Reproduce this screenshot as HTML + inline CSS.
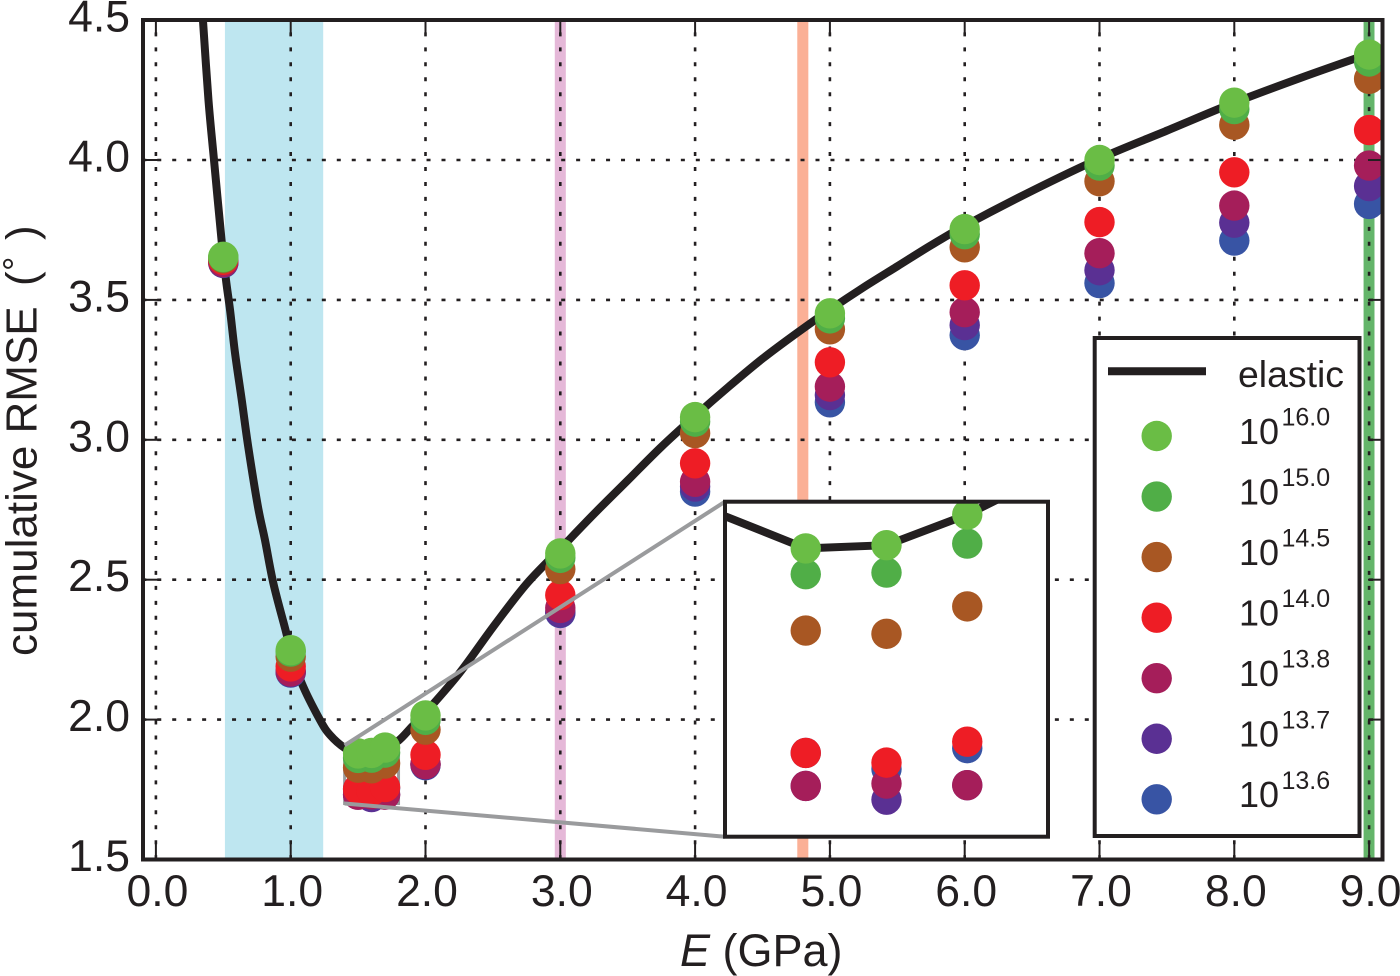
<!DOCTYPE html>
<html lang="en">
<head>
<meta charset="utf-8">
<title>Cumulative RMSE versus E</title>
<style>
html,body{margin:0;padding:0;background:#fff;width:1400px;height:976px;overflow:hidden}
svg{display:block;font-family:"Liberation Sans",Arial,sans-serif;fill:#231f20}
</style>
</head>
<body>
<svg id="chart" width="1400" height="976" viewBox="0 0 1400 976" xmlns="http://www.w3.org/2000/svg">
  <defs>
    <clipPath id="main-clip"><rect x="143" y="20" width="1239.5" height="839.5"/></clipPath>
    <clipPath id="inset-clip"><rect x="725" y="501.7" width="323" height="335"/></clipPath>
  </defs>
  <g id="bands" clip-path="url(#main-clip)"></g>
  <g id="grid" clip-path="url(#main-clip)"></g>
  <g id="main-plot" clip-path="url(#main-clip)"></g>
  <g id="connectors"></g>
  <g id="ticks"></g>
  <rect x="143" y="20" width="1239.5" height="839.5" fill="none" stroke="#231f20" stroke-width="4"/>
  <g id="tick-labels" font-size="44.5"></g>

  <rect x="725" y="501.7" width="323" height="335" fill="#fff"/>
  <g id="inset-plot" clip-path="url(#inset-clip)"></g>
  <rect x="725" y="501.7" width="323" height="335" fill="none" stroke="#231f20" stroke-width="4"/>

  <rect x="1094.7" y="338" width="264.8" height="498" fill="#fff" stroke="#231f20" stroke-width="4"/>
  <g id="legend"></g>

  <g transform="translate(36.7,654) rotate(-90)" font-size="44">
    <text x="-2" y="0">cumulative RMSE</text>
    <text x="368" y="0">(</text>
    <text x="383" y="-8.7" font-size="36">°</text>
    <text x="414" y="0">)</text>
  </g>
  <text x="680" y="966" font-size="45"><tspan font-style="italic">E</tspan> (GPa)</text>
</svg>
<script>
const xTicks = [0, 1, 2, 3, 4, 5, 6, 7, 8, 9];
const xTickLabels = ['0.0', '1.0', '2.0', '3.0', '4.0', '5.0', '6.0', '7.0', '8.0', '9.0'];
const yTicks = [1.5, 2, 2.5, 3, 3.5, 4, 4.5];
const yTickLabels = ['1.5', '2.0', '2.5', '3.0', '3.5', '4.0', '4.5'];

const bandStarts = [0.512, 2.959, 4.758, 8.959];
const bandEnds = [1.241, 3.041, 4.84, 9.04];

const elasticX = [0.33, 0.349, 0.39, 0.431, 0.487, 0.52, 0.55, 0.587, 0.637, 0.685, 0.757, 0.809, 0.871, 0.958, 1.0, 1.082, 1.217, 1.292, 1.4, 1.5, 1.6, 1.7, 1.8, 1.9, 2.0, 2.25, 2.5, 2.75, 3.0, 3.25, 3.5, 3.75, 4.0, 4.25, 4.5, 4.75, 5.0, 5.25, 5.5, 5.75, 6.0, 6.5, 7.0, 7.5, 8.0, 8.5, 9.0];
const elasticY = [4.62, 4.5, 4.214, 4.0, 3.714, 3.571, 3.464, 3.31, 3.142, 2.975, 2.761, 2.642, 2.488, 2.327, 2.25, 2.13, 1.999, 1.945, 1.899, 1.879, 1.881, 1.9, 1.925, 1.975, 2.025, 2.165, 2.33, 2.485, 2.61, 2.735, 2.855, 2.975, 3.085, 3.19, 3.29, 3.38, 3.465, 3.545, 3.62, 3.695, 3.765, 3.89, 4.005, 4.105, 4.205, 4.295, 4.38];

const markerX = [0.5, 1.0, 1.5, 1.6, 1.7, 2.0, 3.0, 4.0, 5.0, 6.0, 7.0, 8.0, 9.0];
const series136 = [3.632, 2.168, 1.752, 1.742, 1.755, 1.837, 2.381, 2.815, 3.134, 3.374, 3.56, 3.712, 3.843];
const series137 = [3.633, 2.17, 1.7315, 1.723, 1.732, 1.839, 2.383, 2.833, 3.16, 3.41, 3.606, 3.776, 3.907];
const series138 = [3.635, 2.172, 1.7315, 1.733, 1.732, 1.841, 2.399, 2.85, 3.19, 3.456, 3.667, 3.837, 3.98];
const series140 = [3.643, 2.19, 1.752, 1.746, 1.759, 1.874, 2.445, 2.916, 3.277, 3.552, 3.778, 3.956, 4.107];
const series145 = [3.648, 2.225, 1.828, 1.826, 1.843, 1.964, 2.538, 3.024, 3.395, 3.688, 3.924, 4.126, 4.29];
const series150 = [3.652, 2.243, 1.863, 1.864, 1.882, 1.999, 2.578, 3.065, 3.434, 3.735, 3.98, 4.182, 4.352];
const series160 = [3.654, 2.248, 1.879, 1.881, 1.9, 2.015, 2.594, 3.081, 3.452, 3.753, 4.0, 4.205, 4.377];

const drawOrder = [series136, series137, series138, series140, series145, series150, series160];
const seriesExponents = ['13.6', '13.7', '13.8', '14.0', '14.5', '15.0', '16.0'];
const seriesColors = ['#3854a4', '#5a3093', '#a51e5a', '#ee1d25', '#a85723', '#50ae47', '#6abd45'];
const bandColors = ['#bee6f0', '#e5b8d8', '#fbb096', '#64b56a'];

const insetXLim = [1.4, 1.8];
const insetYLim = [1.7, 1.908];

const NS = 'http://www.w3.org/2000/svg';
function sx(v) { return 155.9 + v * 134.8; }
function sy(v) { return 859.5 - (v - 1.5) * 279.8; }
function ix(v) { return 725 + (v - insetXLim[0]) / (insetXLim[1] - insetXLim[0]) * 323; }
function iy(v) { return 836.7 - (v - insetYLim[0]) / (insetYLim[1] - insetYLim[0]) * 335; }
function make(tag, parent, attrs) {
  const el = document.createElementNS(NS, tag);
  for (const k in attrs) el.setAttribute(k, attrs[k]);
  parent.appendChild(el);
  return el;
}
const $ = id => document.getElementById(id);

function straightPath(p) {
  return 'M' + p.map(q => q[0] + ' ' + q[1]).join('L');
}
function smoothPath(p) {
  let d = 'M' + p[0][0] + ' ' + p[0][1];
  for (let i = 0; i < p.length - 1; i++) {
    const a = p[Math.max(i - 1, 0)], b = p[i], c = p[i + 1], e = p[Math.min(i + 2, p.length - 1)];
    d += 'C' + (b[0] + (c[0] - a[0]) / 6) + ' ' + (b[1] + (c[1] - a[1]) / 6) + ' ' +
         (c[0] - (e[0] - b[0]) / 6) + ' ' + (c[1] - (e[1] - b[1]) / 6) + ' ' + c[0] + ' ' + c[1];
  }
  return d;
}

bandStarts.forEach((s, i) => {
  const el = make('rect', $('bands'), { x: sx(s), y: 20, width: sx(bandEnds[i]) - sx(s), height: 840, fill: bandColors[i] });
  
  
});

xTicks.forEach((t, i) => {
  const g = make('line', $('grid'), { x1: sx(t), x2: sx(t), y1: 17.4, y2: 859, stroke: '#231f20', 'stroke-width': 2.6, 'stroke-dasharray': '4 10.96' });
  
  
  [[20, 35.5], [844, 859]].forEach(p => {
    const k = make('line', $('ticks'), { x1: sx(t), x2: sx(t), y1: p[0], y2: p[1], stroke: '#231f20', 'stroke-width': 2 });
    
    
  });
  const lab = make('text', $('tick-labels'), { x: sx(t) + 1.5, y: 906, 'text-anchor': 'middle' });
  
  
  lab.textContent = xTickLabels[i];
});

yTicks.forEach((t, i) => {
  const g = make('line', $('grid'), { x1: 142.3, x2: 1382, y1: sy(t), y2: sy(t), stroke: '#231f20', 'stroke-width': 2.6, 'stroke-dasharray': '4 10.96' });
  
  
  [[143, 158], [1368, 1382]].forEach(p => {
    const k = make('line', $('ticks'), { x1: p[0], x2: p[1], y1: sy(t), y2: sy(t), stroke: '#231f20', 'stroke-width': 2 });
    
    
  });
  const lab = make('text', $('tick-labels'), { x: 130, y: sy(t) + 11.5, 'text-anchor': 'end' });
  
  
  lab.textContent = yTickLabels[i];
});

function drawPlot(parent, fx, fy, keep, buildPath) {
  const pts = elasticX.map((x, i) => [fx(x), fy(elasticY[i])]);
  const line = make('path', parent, { d: buildPath(pts), fill: 'none', stroke: '#231f20', 'stroke-width': 8, 'stroke-linejoin': 'round' });
  
  
  drawOrder.forEach((vals, s) => {
    vals.forEach((v, i) => {
      if (!keep(markerX[i])) return;
      const c = make('circle', parent, { cx: fx(markerX[i]), cy: fy(v), r: 15.2, fill: seriesColors[s] });
      
      
    });
  });
}

const zoomBox = make('rect', $('main-plot'), {
  x: sx(insetXLim[0]), y: sy(insetYLim[1]),
  width: sx(insetXLim[1]) - sx(insetXLim[0]), height: sy(insetYLim[0]) - sy(insetYLim[1]),
  fill: 'none', stroke: '#9a9b9d', 'stroke-width': 3
});


drawPlot($('main-plot'), sx, sy, () => true, smoothPath);
drawPlot($('inset-plot'), ix, iy, x => x >= insetXLim[0] && x <= insetXLim[1], straightPath);

[[insetYLim[1], 501.7], [insetYLim[0], 836.7]].forEach(p => {
  const c = make('line', $('connectors'), { x1: sx(insetXLim[0]), y1: sy(p[0]), x2: 725, y2: p[1], stroke: '#9a9b9d', 'stroke-width': 4 });
  
  
});

const legendLine = make('line', $('legend'), { x1: 1108, x2: 1206, y1: 371.3, y2: 371.3, stroke: '#231f20', 'stroke-width': 8 });


const legendElastic = make('text', $('legend'), { x: 1238, y: 387, 'font-size': 37.4 });


legendElastic.textContent = 'elastic';

seriesExponents.slice().reverse().forEach((exp, i) => {
  const color = seriesColors[seriesColors.length - 1 - i];
  const cy = 436 + i * 60.55;
  const m = make('circle', $('legend'), { cx: 1156.7, cy: cy, r: 15.2, fill: color });
  
  
  const base = make('text', $('legend'), { x: 1239, y: cy + 7.8, 'font-size': 36 });
  
  
  base.textContent = '10';
  const sup = make('text', $('legend'), { x: 1281.5, y: cy - 10.5, 'font-size': 25 });
  
  
  sup.textContent = exp;
});
</script>
</body>
</html>
